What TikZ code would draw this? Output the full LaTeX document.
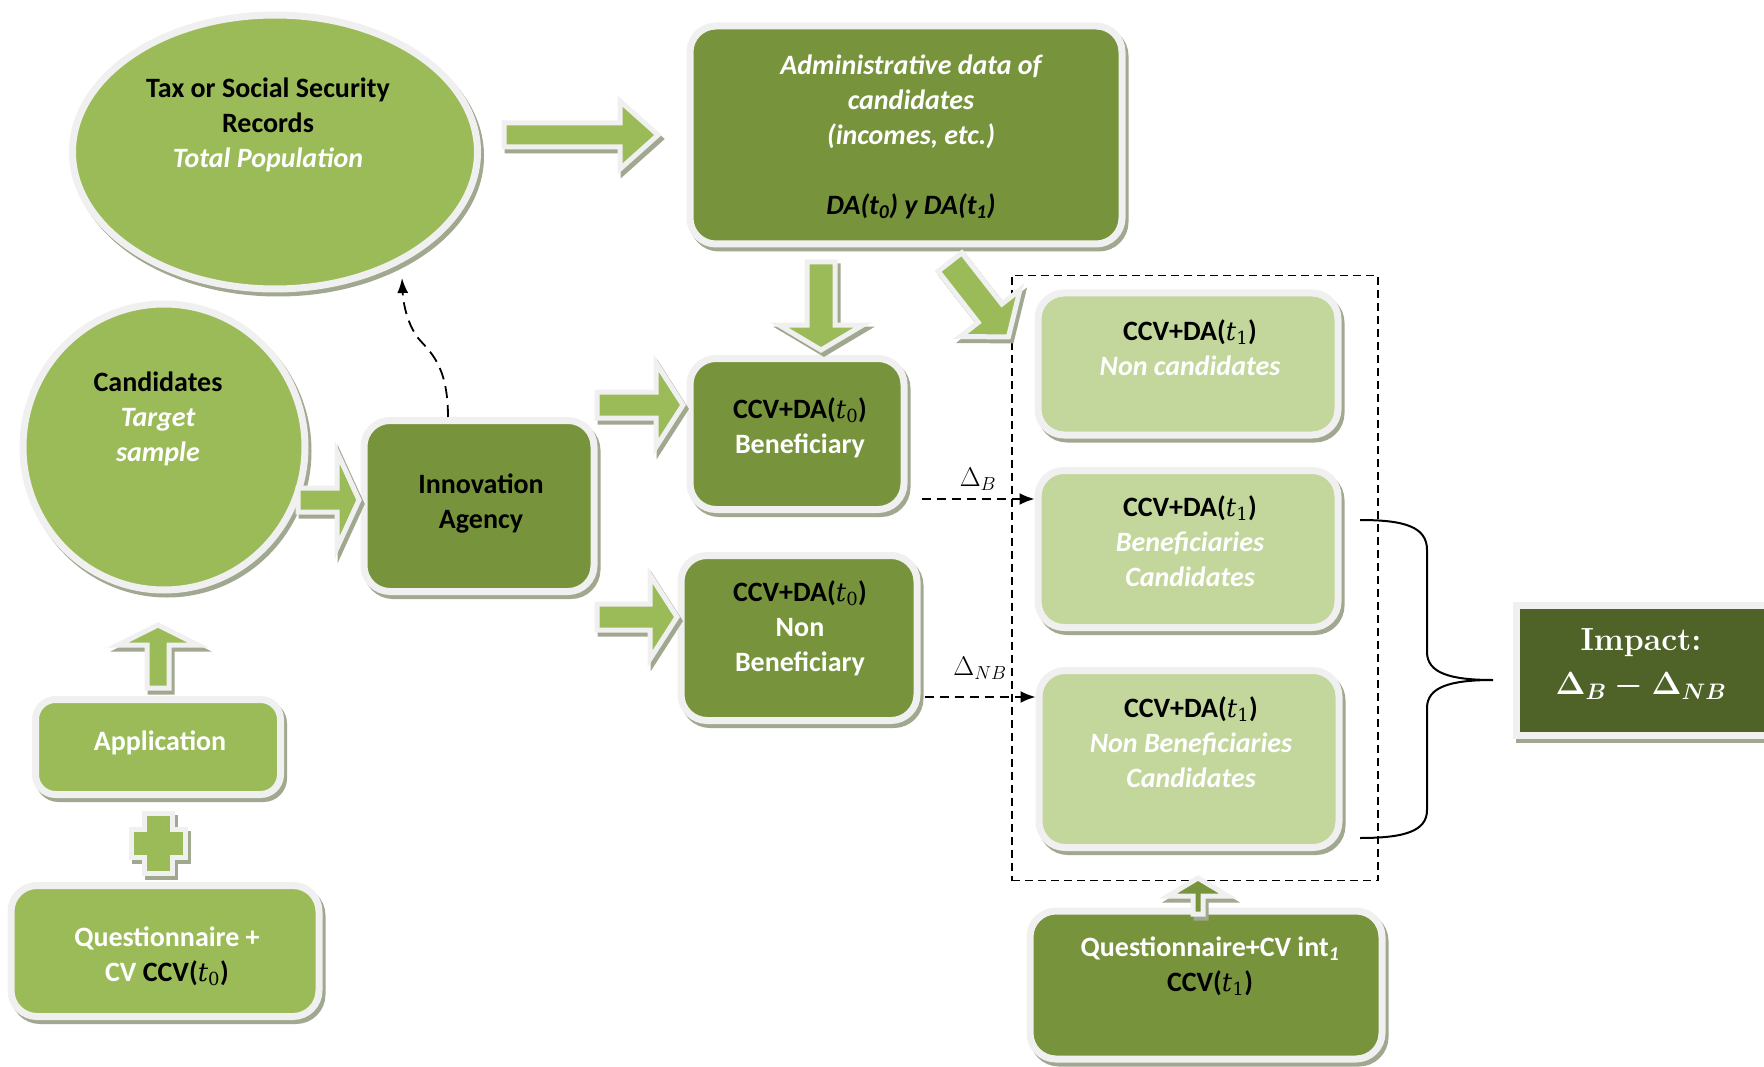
\documentclass[tikz,border=0pt]{standalone}
\usepackage{fix-cm}
\usepackage[no-math]{fontspec}
\newfontfamily\calibri{Carlito}
\newfontfamily\mathserif[Scale=0.92]{DejaVu Serif}
\newcommand\tsub[1]{{\mathserif\mdseries\itshape t}\textsubscript{\mathserif\mdseries #1}}
\usetikzlibrary{shapes.geometric,shadows,arrows.meta}

\definecolor{midgreen}{HTML}{9BBB59}
\definecolor{darkgreen}{HTML}{77933C}
\definecolor{lightgreen}{HTML}{C3D69B}
\definecolor{impactgreen}{HTML}{4F6228}
\definecolor{rim}{HTML}{F0F0F0}
\definecolor{shade}{HTML}{A0A890}

\tikzset{
  shadowed/.style={drop shadow={shadow xshift=3pt, shadow yshift=-4pt, opacity=1,
      fill=shade, draw=shade, line width=7pt}},
  box/.style={rectangle, rounded corners=26pt, draw=rim, line width=7pt, inner sep=0pt, shadowed},
  blob/.style={ellipse, draw=rim, line width=7pt, inner sep=0pt, fill=midgreen, shadowed},
  txt/.style={font=\calibri\bfseries\fontsize{28}{35}\selectfont, align=center, inner sep=0pt},
  dashframe/.style={draw, dash pattern=on 8pt off 5pt, line width=1.8pt, inner sep=0pt},
  deltaline/.style={dash pattern=on 9pt off 6pt, line width=1.8pt, -{Latex[length=15pt,width=12pt]}},
  linkline/.style={dash pattern=on 12pt off 7pt, line width=1.8pt, -{Latex[length=15pt,width=11pt]}},
  % #1 length, #2 angle, #3 half shaft, #4 half head, #5 head length
  pics/fatarrow/.style n args={5}{code={
    \path[fill=shade, draw=shade, line width=5pt, shift={(3,-4)}, rotate=#2]
      (0,-#3) -- ({#1-#5},-#3) -- ({#1-#5},-#4) -- (#1,0) -- ({#1-#5},#4) -- ({#1-#5},#3) -- (0,#3) -- cycle;
    \path[pic actions, draw=rim, line width=5pt, rotate=#2]
      (0,-#3) -- ({#1-#5},-#3) -- ({#1-#5},-#4) -- (#1,0) -- ({#1-#5},#4) -- ({#1-#5},#3) -- (0,#3) -- cycle;
  }}
}

\begin{document}
\begin{tikzpicture}[x=1pt, y=1pt]
  \useasboundingbox (0,0) rectangle (1764,-1067);
  \clip (0,0) rectangle (1764,-1067);

  % dashed frame round the follow-up groups
  \node[dashframe, minimum width=366pt, minimum height=605pt] (frame) at (1195,-578) {};

  % shapes
  \node[blob, minimum width=405pt, minimum height=274pt] (tax) at (275,-152) {};
  \node[blob, minimum width=282pt, minimum height=286pt] (cand) at (164,-447) {};
  \node[box, fill=darkgreen, minimum width=230pt, minimum height=171pt] (inno) at (479,-506) {};
  \node[box, fill=darkgreen, minimum width=432pt, minimum height=218pt] (admin) at (906,-135) {};
  \node[box, fill=darkgreen, minimum width=214pt, minimum height=151pt] (ben) at (797,-434) {};
  \node[box, fill=darkgreen, minimum width=236pt, minimum height=165pt] (nonben) at (799,-638) {};
  \node[box, fill=lightgreen, minimum width=300pt, minimum height=142pt] (noncand) at (1188,-364) {};
  \node[box, fill=lightgreen, minimum width=300pt, minimum height=157pt] (bencand) at (1188,-549) {};
  \node[box, fill=lightgreen, minimum width=300pt, minimum height=177pt] (nonbencand) at (1189,-759) {};
  \node[box, sharp corners, fill=impactgreen, minimum width=266pt, minimum height=130pt] (impact) at (1649,-670) {};
  \node[box, rounded corners=20pt, fill=midgreen, minimum width=245pt, minimum height=95pt] (app) at (158,-747) {};
  \node[box, fill=midgreen, minimum width=308pt, minimum height=131pt] (quest) at (165,-951) {};
  \node[box, fill=darkgreen, minimum width=352pt, minimum height=148pt] (qcv) at (1206,-985) {};

  % block arrows
  \pic[fill=midgreen] at (504,-135) {fatarrow={154}{0}{12}{34}{38}};
  \pic[fill=midgreen] at (821,-262) {fatarrow={88}{-90}{14}{42}{25}};
  \pic[fill=midgreen] at (950,-262) {fatarrow={95}{-52}{15}{38}{30}};
  \pic[fill=midgreen] at (298,-500) {fatarrow={61}{0}{12}{48}{22}};
  \pic[fill=midgreen] at (597,-405) {fatarrow={86}{0}{13}{42}{27}};
  \pic[fill=midgreen] at (597,-617) {fatarrow={80}{0}{13}{42}{27}};
  \pic[fill=midgreen] at (158,-688) {fatarrow={63}{90}{11}{40}{20}};
  \pic[fill=darkgreen] at (1198,-914) {fatarrow={36}{90}{5}{30}{18}};

  % plus sign between questionnaire and application
  \begin{scope}[shift={(158,-843)}]
    \path[fill=shade, draw=shade, line width=5pt, shift={(3,-4)}]
      (-14,30) -- (14,30) -- (14,14) -- (27,14) -- (27,-14) -- (14,-14) -- (14,-30)
      -- (-14,-30) -- (-14,-14) -- (-27,-14) -- (-27,14) -- (-14,14) -- cycle;
    \path[fill=midgreen, draw=rim, line width=5pt]
      (-14,30) -- (14,30) -- (14,14) -- (27,14) -- (27,-14) -- (14,-14) -- (14,-30)
      -- (-14,-30) -- (-14,-14) -- (-27,-14) -- (-27,14) -- (-14,14) -- cycle;
  \end{scope}

  % texts
  \node[txt] (tax-t) at (268,-125) {Tax or Social Security\\Records\\{\color{white}\itshape Total Population}};
  \node[txt] (cand-t) at (158,-419) {Candidates\\{\color{white}\itshape Target}\\{\color{white}\itshape sample}};
  \node[txt] (inno-t) at (481,-504) {Innovation\\Agency};
  \node[txt, font=\calibri\bfseries\itshape\fontsize{28}{35}\selectfont] (admin-t) at (911,-137)
    {{\color{white}Administrative data of}\\{\color{white}candidates}\\{\color{white}(incomes, etc.)}\\[35pt]
     DA(t\textsubscript{0}) y DA(t\textsubscript{1})};
  \node[txt] (ben-t) at (800,-428) {CCV+DA(\tsub{0})\\{\color{white}Beneficiary}};
  \node[txt] (nonben-t) at (800,-628) {CCV+DA(\tsub{0})\\{\color{white}Non}\\{\color{white}Beneficiary}};
  \node[txt] (noncand-t) at (1190,-348) {CCV+DA(\tsub{1})\\{\color{white}\itshape Non candidates}};
  \node[txt] (bencand-t) at (1190,-541) {CCV+DA(\tsub{1})\\{\color{white}\itshape Beneficiaries}\\{\color{white}\itshape Candidates}};
  \node[txt] (nonbencand-t) at (1191,-742) {CCV+DA(\tsub{1})\\{\color{white}\itshape Non Beneficiaries}\\{\color{white}\itshape Candidates}};
  \node[txt] (app-t) at (160,-743) {\color{white}Application};
  \node[txt] (quest-t) at (167,-956) {{\color{white}Questionnaire +}\\{\color{white}CV} CCV(\tsub{0})};
  \node[txt] (qcv-t) at (1210,-966) {{\color{white}Questionnaire+CV int\textsubscript{\itshape 1}}\\CCV(\tsub{1})};
  \node[font=\bfseries\fontsize{32}{44}\selectfont, text=white, align=center, inner sep=0pt] (impact-t)
    at (1641,-664) {Impact:\\{\boldmath$\Delta_B - \Delta_{NB}$}};

  % dashed links
  \draw[linkline] ([xshift=-31pt]inno.north) .. controls (448,-365) and (430,-352) .. (418,-338)
    .. controls (406,-322) and (403,-300) .. (402,-278);
  \draw[deltaline] ([xshift=14pt,yshift=-65pt]ben.east) -- ([yshift=-65pt]ben.east -| bencand.west)
    node[midway, above=4pt, font=\fontsize{27}{32}\selectfont] (dB) {$\Delta_B$};
  \draw[deltaline] ([xshift=4pt,yshift=-59pt]nonben.east) -- ([yshift=-59pt]nonben.east -| nonbencand.west)
    node[midway, above=13pt, font=\fontsize{27}{32}\selectfont] (dNB) {$\Delta_{NB}$};

  % brace towards the impact
  \draw[line width=2pt] (1360,-520) .. controls (1405,-520) and (1427,-527) .. (1427,-550) -- (1427,-652)
    .. controls (1427,-673) and (1450,-680) .. (1493,-680)
    .. controls (1450,-680) and (1427,-687) .. (1427,-708) -- (1427,-810)
    .. controls (1427,-831) and (1405,-838) .. (1360,-838);
\end{tikzpicture}
\end{document}
